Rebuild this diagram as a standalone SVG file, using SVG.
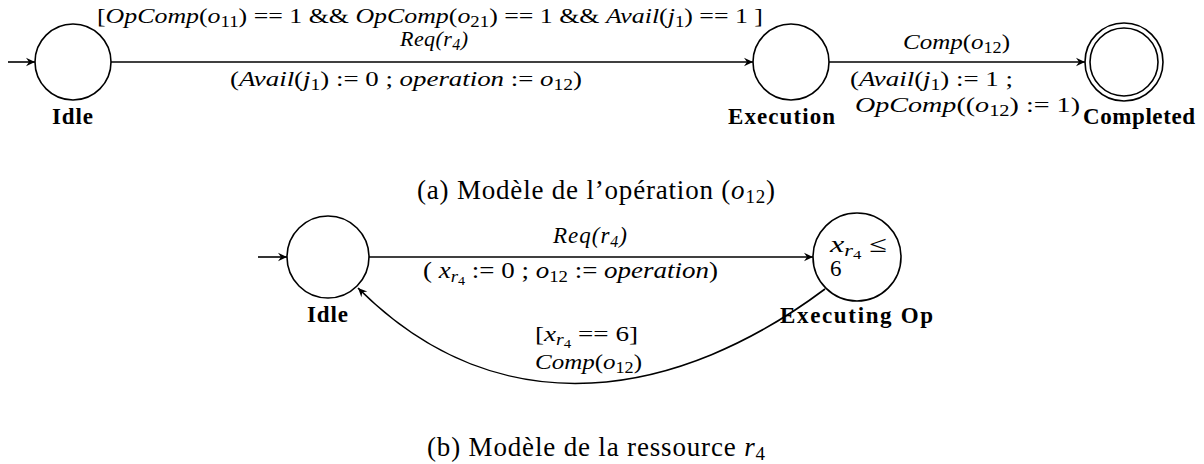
<svg xmlns="http://www.w3.org/2000/svg" width="1204" height="464" viewBox="0 0 1204 464">
<style>
text{font-family:"Liberation Serif","DejaVu Serif",serif;fill:#000}
.lbl{font-size:22px}
.lb2{font-size:23px}
.cap{font-size:27px}
.bold{font-size:23px;font-weight:bold}
.i{font-style:italic}
.s{font-size:16px}
.ss{font-size:12px}
.st{fill:#fff;stroke:#000;stroke-width:1.6}
.edge{fill:none;stroke:#000;stroke-width:1.6}
</style>
<defs>
<marker id="arr" markerUnits="userSpaceOnUse" markerWidth="12" markerHeight="12" viewBox="-10 -6 12 12" refX="0" refY="0" orient="auto">
<path d="M0,0 L-9,-4.2 L-6,0 L-9,4.2 Z" fill="#000"/>
</marker>
</defs>
<rect width="1204" height="464" fill="#fff"/>

<!-- (a) -->
<g id="a-idle"><circle class="st" cx="73" cy="62" r="38"/><text class="bold" x="52" y="124" textLength="41">Idle</text></g>
<g id="a-execution"><circle class="st" cx="791" cy="62" r="38"/><text class="bold" x="728" y="124" textLength="107">Execution</text></g>
<g id="a-completed"><circle class="st" cx="1124" cy="62" r="39"/><circle class="st" cx="1124" cy="62" r="34"/><text class="bold" x="1083" y="124" textLength="112">Completed</text></g>

<g id="a-edges">
<line class="edge" x1="8" y1="62" x2="35" y2="62" marker-end="url(#arr)"/>
<line class="edge" x1="111" y1="62" x2="753" y2="62" marker-end="url(#arr)"/>
<line class="edge" x1="829" y1="62" x2="1085" y2="62" marker-end="url(#arr)"/>
<text class="lbl" x="97" y="23" textLength="666" lengthAdjust="spacingAndGlyphs">[<tspan class="i">OpComp</tspan>(<tspan class="i">o</tspan><tspan class="s" dy="4">11</tspan><tspan dy="-4">) == 1 &amp;&amp; </tspan><tspan class="i">OpComp</tspan>(<tspan class="i">o</tspan><tspan class="s" dy="4">21</tspan><tspan dy="-4">) == 1 &amp;&amp; </tspan><tspan class="i">Avail</tspan>(<tspan class="i">j</tspan><tspan class="s" dy="4">1</tspan><tspan dy="-4">) == 1 ]</tspan></text>
<text class="lbl i" x="400" y="46" textLength="68">Req(r<tspan class="s" dy="4">4</tspan><tspan dy="-4">)</tspan></text>
<text class="lbl" x="230" y="86" textLength="352" lengthAdjust="spacingAndGlyphs">(<tspan class="i">Avail</tspan>(<tspan class="i">j</tspan><tspan class="s" dy="4">1</tspan><tspan dy="-4">) := 0 ; </tspan><tspan class="i">operation</tspan> := <tspan class="i">o</tspan><tspan class="s" dy="4">12</tspan><tspan dy="-4">)</tspan></text>
<text class="lbl" x="903" y="49" textLength="107" lengthAdjust="spacingAndGlyphs"><tspan class="i">Comp</tspan>(<tspan class="i">o</tspan><tspan class="s" dy="4">12</tspan><tspan dy="-4">)</tspan></text>
<text class="lbl" x="850" y="86" textLength="163" lengthAdjust="spacingAndGlyphs">(<tspan class="i">Avail</tspan>(<tspan class="i">j</tspan><tspan class="s" dy="4">1</tspan><tspan dy="-4">) := 1 ;</tspan></text>
<text class="lbl" x="855" y="112" textLength="225" lengthAdjust="spacingAndGlyphs"><tspan class="i">OpComp</tspan>((<tspan class="i">o</tspan><tspan class="s" dy="4">12</tspan><tspan dy="-4">) := 1)</tspan></text>
</g>

<text class="cap" x="417" y="199" textLength="358">(a) Modèle de l’opération (<tspan class="i">o</tspan><tspan class="s" dy="4" style="font-size:19px">12</tspan><tspan dy="-4">)</tspan></text>

<!-- (b) -->
<g id="b-idle"><circle class="st" cx="328" cy="257" r="41"/><text class="bold" x="307" y="322" textLength="41">Idle</text></g>
<g id="b-executing"><circle class="st" cx="857" cy="257" r="44"/>
<text class="lb2" x="830" y="252" textLength="57" lengthAdjust="spacingAndGlyphs"><tspan class="i">x</tspan><tspan class="s i" dy="4">r</tspan><tspan class="ss" dy="3">4</tspan><tspan dy="-7"> ≤</tspan></text>
<text class="lb2" x="830" y="276">6</text>
<text class="bold" x="780" y="323" textLength="153">Executing Op</text></g>

<g id="b-edges">
<line class="edge" x1="258" y1="257" x2="287" y2="257" marker-end="url(#arr)"/>
<line class="edge" x1="369" y1="257" x2="813" y2="257" marker-end="url(#arr)"/>
<path class="edge" d="M825,289 C681,397 502,432 358,288" marker-end="url(#arr)"/>
<text class="lb2 i" x="553" y="243" textLength="74">Req(r<tspan class="s" dy="4">4</tspan><tspan dy="-4">)</tspan></text>
<text class="lb2" x="423" y="278" textLength="295" lengthAdjust="spacingAndGlyphs">( <tspan class="i">x</tspan><tspan class="s i" dy="4">r</tspan><tspan class="ss" dy="3">4</tspan><tspan dy="-7"> := 0 ; </tspan><tspan class="i">o</tspan><tspan class="s" dy="4">12</tspan><tspan dy="-4"> := </tspan><tspan class="i">operation</tspan>)</text>
<text class="lbl" x="535" y="341" textLength="103" lengthAdjust="spacingAndGlyphs">[<tspan class="i">x</tspan><tspan class="s i" dy="4">r</tspan><tspan class="ss" dy="3">4</tspan><tspan dy="-7"> == 6]</tspan></text>
<text class="lbl" x="535" y="369" textLength="107" lengthAdjust="spacingAndGlyphs"><tspan class="i">Comp</tspan>(<tspan class="i">o</tspan><tspan class="s" dy="4">12</tspan><tspan dy="-4">)</tspan></text>
</g>

<text class="cap" x="427" y="456" textLength="338">(b) Modèle de la ressource <tspan class="i">r</tspan><tspan class="s" dy="4" style="font-size:19px">4</tspan></text>
</svg>
